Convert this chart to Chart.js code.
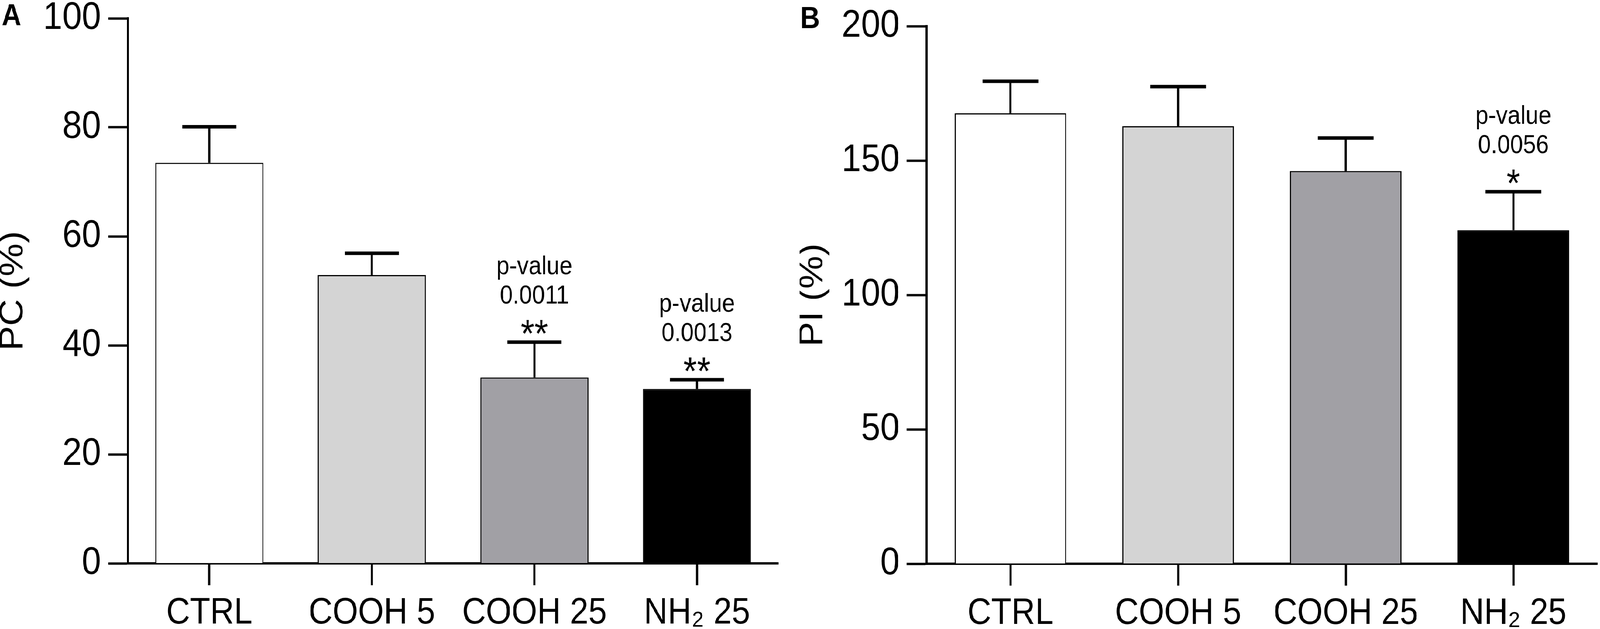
<!DOCTYPE html>
<html>
<head>
<meta charset="utf-8">
<script src="https://cdn.jsdelivr.net/npm/chart.js@4.4.1/dist/chart.umd.min.js"></script>
<style>
  html, body { margin: 0; padding: 0; background: #fff; overflow: hidden; }
  #wrap { position: relative; width: 4562px; height: 1610px; transform-origin: 0 0; }
  canvas { position: absolute; top: 0; }
</style>
</head>
<body>
<div id="wrap">
  <canvas id="panelA" width="2280" height="1610" style="left:0;width:2280px;height:1610px"></canvas>
  <canvas id="panelB" width="2282" height="1610" style="left:2280px;width:2282px;height:1610px"></canvas>
</div>
<script>
// groups on the x axis
const categories = ['CTRL', 'COOH 5', 'COOH 25', 'NH\u2082 25'];
const barColors = ['#ffffff', '#d4d4d4', '#a1a0a5', '#000000'];

// panel A : PC (%)
const pcMean = [73.5, 52.9, 34.1, 32.0];
const pcErr = [6.6, 4.0, 6.5, 1.7];
const pcPValue = [null, null, '0.0011', '0.0013'];
const pcStars = [null, null, '**', '**'];

// panel B : PI (%)
const piMean = [167.6, 162.8, 146.1, 124.1];
const piErr = [11.9, 14.7, 12.3, 14.3];
const piPValue = [null, null, null, '0.0056'];
const piStars = [null, null, null, '*'];

// the window may be narrower than the 4562px figure: squeeze it to fit
const wrap = document.getElementById('wrap');
const kx = Math.min(1, window.innerWidth / 4562);
const ky = Math.min(1, window.innerHeight / 1610);
wrap.style.transform = 'scale(' + kx + ',' + ky + ')';

Chart.defaults.font.family = "'Liberation Sans', Arial, sans-serif";
Chart.defaults.color = '#000';

// error bars (upper only), significance text and the panel letter
function panelPlugin(letter, letterPos, err, pvals, stars) {
    return {
        id: 'panelExtras',
        afterDatasetsDraw(chart) {
            const ctx = chart.ctx;
            const yScale = chart.scales.y;
            const meta = chart.getDatasetMeta(0);
            const means = chart.data.datasets[0].data;
            ctx.save();
            ctx.strokeStyle = '#000';
            ctx.fillStyle = '#000';
            meta.data.forEach((bar, i) => {
                const capY = yScale.getPixelForValue(means[i] + err[i]);
                const half = bar.width / 4;
                ctx.lineWidth = 6;
                ctx.beginPath();
                ctx.moveTo(bar.x, bar.y);
                ctx.lineTo(bar.x, capY);
                ctx.stroke();
                ctx.lineWidth = 9;
                ctx.beginPath();
                ctx.moveTo(bar.x - half, capY);
                ctx.lineTo(bar.x + half, capY);
                ctx.stroke();

                ctx.textAlign = 'center';
                ctx.textBaseline = 'alphabetic';
                if (stars[i]) {
                    ctx.font = "100px 'Liberation Sans', Arial, sans-serif";
                    ctx.fillText(stars[i], bar.x, capY + 12);
                }
                if (pvals[i]) {
                    ctx.font = "66px 'Liberation Sans', Arial, sans-serif";
                    ctx.fillText(pvals[i], bar.x, capY - 99);
                    ctx.fillText('p-value', bar.x, capY - 174);
                }
            });
            ctx.font = "bold 77px 'Liberation Sans', Arial, sans-serif";
            ctx.textAlign = 'left';
            ctx.textBaseline = 'alphabetic';
            ctx.fillText(letter, letterPos[0], letterPos[1]);
            ctx.restore();
        }
    };
}

function makePanel(id, means, err, yMax, yStep, yTitle, pvals, stars, box, letter, letterPos) {
    const ctx = document.getElementById(id).getContext('2d');
    return new Chart(ctx, {
        type: 'bar',
        data: {
            labels: categories,
            datasets: [{
                data: means,
                backgroundColor: barColors,
                borderColor: '#000',
                borderWidth: 3,
                barPercentage: 0.665,
                categoryPercentage: 1
            }]
        },
        options: {
            responsive: false,
            devicePixelRatio: 1,
            animation: false,
            layout: { padding: { top: box.top, right: box.right, left: 0, bottom: 0 } },
            plugins: { legend: { display: false }, tooltip: { enabled: false } },
            scales: {
                x: {
                    offset: true,
                    grid: { offset: false, drawOnChartArea: false, tickLength: 56, tickWidth: 6, tickColor: '#000' },
                    border: { display: true, width: 6, color: '#000' },
                    ticks: { font: { size: 94 }, padding: 16, maxRotation: 0, autoSkip: false },
                    afterFit(scale) {
                        scale.height = box.xHeight;
                        scale.paddingLeft = 0;
                        scale.paddingRight = 0;
                    }
                },
                y: {
                    min: 0,
                    max: yMax,
                    ticks: { stepSize: yStep, font: { size: 99 }, padding: 20 },
                    grid: { drawOnChartArea: false, tickLength: 57, tickWidth: 6, tickColor: '#000' },
                    border: { display: true, width: 6, color: '#000' },
                    title: { display: true, text: yTitle, font: { size: 95, lineHeight: 0.8 }, padding: 0 },
                    afterFit(scale) {
                        scale.width = box.left;
                        scale.paddingTop = 0;
                        scale.paddingBottom = 0;
                    }
                }
            }
        },
        plugins: [panelPlugin(letter, letterPos, err, pvals, stars)]
    });
}

makePanel('panelA', pcMean, pcErr, 100, 20, 'PC (%)', pcPValue, pcStars,
    { left: 365, top: 47, right: 61, xHeight: 168 }, 'A', [5, 65]);
makePanel('panelB', piMean, piErr, 200, 50, 'PI (%)', piPValue, piStars,
    { left: 362, top: 67, right: 8, xHeight: 167 }, 'B', [2, 72]);
</script>
</body>
</html>
